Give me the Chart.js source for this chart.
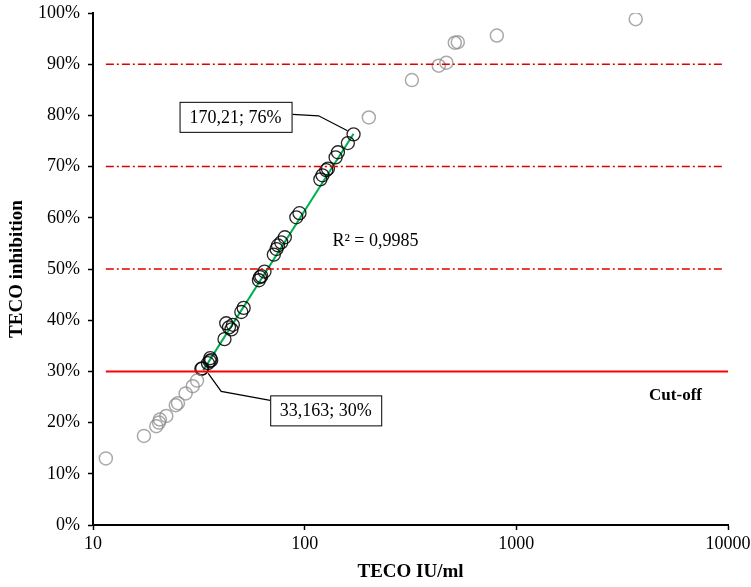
<!DOCTYPE html>
<html>
  <head>
    <title>TECO inhibition</title>
    <script src="https://cdn.jsdelivr.net/npm/chart.js"></script>
    <style>
      body { margin: 0; background: #fff; }
      #wrap { width: 751px; height: 587px; }
    </style>
  </head>
  <body>
    <div id="wrap"><canvas id="myChart" width="751" height="587"></canvas></div>
    <script>
      // points outside the linear range (grey)
      var grayX = [11.5, 17.4, 19.9, 20.5, 20.7, 22.2, 24.6, 25.2, 27.4, 29.6, 31.0,
                   201, 321, 430, 467, 512, 529, 809, 3664];
      var grayY = [0.130, 0.174, 0.193, 0.200, 0.206, 0.213, 0.234, 0.238, 0.257, 0.271, 0.282,
                   0.796, 0.869, 0.897, 0.903, 0.942, 0.943, 0.956, 0.988];

      // points used for the fit (black)
      var blackX = [32.5, 32.8, 34.9, 35.6, 36.2, 35.8, 41.8, 42.6, 43.9, 45.1, 45.8, 50.2, 51.5,
                    60.8, 61.5, 62.4, 64.6, 71.5, 73.6, 74.8, 77.5, 80.6, 91.3, 94.5,
                    118.6, 121.4, 126.5, 128.8, 140, 143.6, 160, 170.21];
      var blackY = [0.305, 0.306, 0.316, 0.320, 0.322, 0.326, 0.363, 0.394, 0.386, 0.382, 0.391, 0.416, 0.424,
                    0.478, 0.484, 0.486, 0.495, 0.528, 0.539, 0.546, 0.552, 0.562, 0.601, 0.609,
                    0.675, 0.683, 0.693, 0.696, 0.718, 0.728, 0.746, 0.763];

      // trend line end points
      var fitX = [33.163, 170.21];
      var fitY = [0.302, 0.764];

      // reference levels
      var cutoffLevel = 0.3;
      var dashLevels = [0.5, 0.7, 0.9];
      var levelStart = 11.5;
      var cutoffEnd = 10000;
      var dashEnd = 9400;

      var xTicks = [10, 100, 1000, 10000];

      var serif = "'Liberation Serif', 'Times New Roman', serif";
      Chart.defaults.font.family = serif;
      Chart.defaults.color = "#000";

      function pts(xs, ys) {
        return xs.map(function (x, i) { return { x: x, y: ys[i] }; });
      }

      var datasets = [];
      datasets.push({
        label: "Cut-off",
        data: [{ x: levelStart, y: cutoffLevel }, { x: cutoffEnd, y: cutoffLevel }],
        showLine: true, borderColor: "#ff0000", borderWidth: 2, pointRadius: 0
      });
      dashLevels.forEach(function (lv) {
        datasets.push({
          label: "level " + lv,
          data: [{ x: levelStart, y: lv }, { x: dashEnd, y: lv }],
          showLine: true, borderColor: "#e00000", borderWidth: 1.5,
          borderDash: [8, 3, 2, 3], pointRadius: 0
        });
      });
      datasets.push({
        label: "grey",
        data: pts(grayX, grayY),
        pointRadius: 6.5, pointBorderWidth: 1.5,
        pointBorderColor: "rgba(140,140,140,0.75)", pointBackgroundColor: "rgba(0,0,0,0)"
      });
      datasets.push({
        label: "black",
        data: pts(blackX, blackY),
        pointRadius: 6.5, pointBorderWidth: 1.3,
        pointBorderColor: "rgba(0,0,0,0.85)", pointBackgroundColor: "rgba(0,0,0,0)"
      });
      datasets.push({
        label: "fit",
        data: pts(fitX, fitY),
        showLine: true, borderColor: "#00b050", borderWidth: 2, pointRadius: 0
      });

      function box(ctx, text, x, y, w, h) {
        ctx.fillStyle = "#fff";
        ctx.fillRect(x, y, w, h);
        ctx.strokeStyle = "#000";
        ctx.lineWidth = 1;
        ctx.strokeRect(x + 0.5, y + 0.5, w, h);
        ctx.fillStyle = "#000";
        ctx.font = "18px " + serif;
        ctx.textAlign = "center";
        ctx.textBaseline = "middle";
        ctx.fillText(text, x + w / 2, y + h / 2 + 1);
      }

      function leader(ctx, p) {
        ctx.beginPath();
        ctx.strokeStyle = "#000";
        ctx.lineWidth = 1.2;
        ctx.moveTo(p[0][0], p[0][1]);
        for (var i = 1; i < p.length; i++) ctx.lineTo(p[i][0], p[i][1]);
        ctx.stroke();
      }

      var notes = {
        id: "notes",
        afterDatasetsDraw: function (chart) {
          var ctx = chart.ctx;
          var xs = chart.scales.x, ys = chart.scales.y;
          ctx.save();

          // upper end label
          var ax = xs.getPixelForValue(fitX[1]), ay = ys.getPixelForValue(fitY[1]);
          leader(ctx, [[ax - 6, ay - 3], [ax - 35, ay - 18], [ax - 61, ay - 19.5]]);
          box(ctx, "170,21; 76%", ax - 174, ay - 32, 112, 30);

          // lower end label
          var bx = xs.getPixelForValue(fitX[0]), by = ys.getPixelForValue(fitY[0]);
          leader(ctx, [[bx + 5, by + 3], [bx + 18, by + 21], [bx + 67, by + 30]]);
          box(ctx, "33,163; 30%", bx + 67, by + 25, 111, 30);

          ctx.fillStyle = "#000";
          ctx.textAlign = "center";
          ctx.textBaseline = "middle";
          ctx.font = "18px " + serif;
          ctx.fillText("R\u00b2 = 0,9985", xs.getPixelForValue(216), ys.getPixelForValue(0.555));

          ctx.font = "bold 17px " + serif;
          ctx.fillText("Cut-off", xs.getPixelForValue(5650), ys.getPixelForValue(0.252));
          ctx.restore();
        }
      };

      var ctx = document.getElementById("myChart").getContext("2d");
      var myChart = new Chart(ctx, {
        type: "scatter",
        data: { datasets: datasets },
        plugins: [notes],
        options: {
          responsive: false,
          animation: false,
          layout: { padding: { left: 0, right: 23, top: 13, bottom: 0 } },
          plugins: { legend: { display: false }, tooltip: { enabled: false } },
          scales: {
            x: {
              type: "logarithmic",
              min: 10,
              max: 10000,
              afterBuildTicks: function (scale) {
                scale.ticks = xTicks.map(function (v) { return { value: v }; });
              },
              afterFit: function (scale) {
                scale.height = 62;
                scale.paddingLeft = 0;
                scale.paddingRight = 0;
              },
              ticks: {
                font: { size: 18 },
                padding: 3,
                maxRotation: 0,
                callback: function (v) { return String(v); }
              },
              grid: { drawOnChartArea: false, tickLength: 5, tickColor: "#000", tickWidth: 1.5 },
              border: { color: "#000", width: 2 },
              title: {
                display: true,
                text: "TECO IU/ml",
                font: { size: 19, weight: "bold" },
                padding: { top: 0, bottom: 4 }
              }
            },
            y: {
              min: 0,
              max: 1,
              afterFit: function (scale) {
                scale.width = 93;
                scale.paddingTop = 0;
                scale.paddingBottom = 0;
              },
              ticks: {
                stepSize: 0.1,
                font: { size: 18 },
                padding: 8,
                callback: function (v) { return Math.round(v * 100) + "%"; }
              },
              grid: { drawOnChartArea: false, tickLength: 5, tickColor: "#000", tickWidth: 1.5 },
              border: { color: "#000", width: 2 },
              title: {
                display: true,
                text: "TECO inhibition",
                font: { size: 19, weight: "bold" },
                padding: { top: 6, bottom: 0 }
              }
            }
          }
        }
      });
    </script>
  </body>
</html>
